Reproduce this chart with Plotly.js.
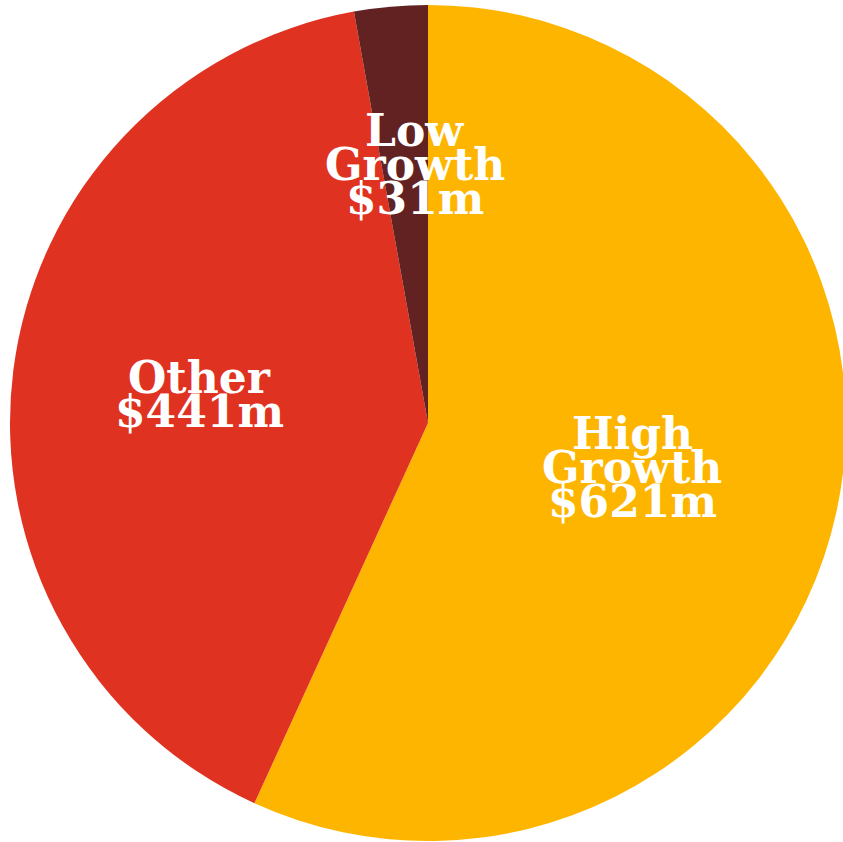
<!DOCTYPE html>
<html>
<head>
<meta charset="utf-8">
<script src="https://cdn.plot.ly/plotly-3.0.1.min.js"></script>
<style>
html, body { margin: 0; padding: 0; overflow: hidden; background: #fff; }
#chart { width: 860px; height: 842px; }
</style>
</head>
<body>
<div id="chart"></div>
<script>
// Data
const labels = ["High Growth", "Other", "Low Growth"];
const values = [621, 441, 31];
const colors = ["#FDB500", "#E03220", "#612221"];

// Layout geometry (pixels)
const W = 860, H = 842;
const cx = 428, cy = 423, R = 418;
const labelRadius = [0.5, 0.55, 0.62];
const labelXShift = [0, 0, 10];
const linePitch = 34;
const fontSize = 44;

const total = values.reduce((a, b) => a + b, 0);
const annotations = [];
let cum = 0;
values.forEach((v, i) => {
  const mid = (cum + v / 2) / total * 2 * Math.PI;
  cum += v;
  const px = cx + R * labelRadius[i] * Math.sin(mid);
  const py = cy - R * labelRadius[i] * Math.cos(mid);
  const lines = labels[i].split(" ").concat(["$" + v + "m"]);
  lines.forEach((t, k) => {
    annotations.push({
      x: px / W, y: 1 - py / H, xref: "paper", yref: "paper",
      xanchor: "center", yanchor: "middle", showarrow: false,
      xshift: labelXShift[i],
      yshift: -(k - (lines.length - 1) / 2) * linePitch,
      borderpad: 0,
      text: "<b>" + t + "</b>",
      font: { family: "DejaVu Serif, Georgia, serif", size: fontSize, color: "#ffffff" }
    });
  });
});

const trace = {
  type: "pie",
  labels: labels,
  values: values,
  sort: false,
  direction: "clockwise",
  rotation: 0,
  marker: { colors: colors, line: { width: 0 } },
  textinfo: "none",
  hoverinfo: "skip",
  showlegend: false,
  domain: { x: [(cx - R) / W, (cx + R) / W], y: [1 - (cy + R) / H, 1 - (cy - R) / H] }
};

Plotly.newPlot("chart", [trace], {
  width: W, height: H,
  margin: { l: 0, r: 0, t: 0, b: 0 },
  paper_bgcolor: "#ffffff",
  showlegend: false,
  annotations: annotations
}, { displayModeBar: false, staticPlot: true });
</script>
</body>
</html>
